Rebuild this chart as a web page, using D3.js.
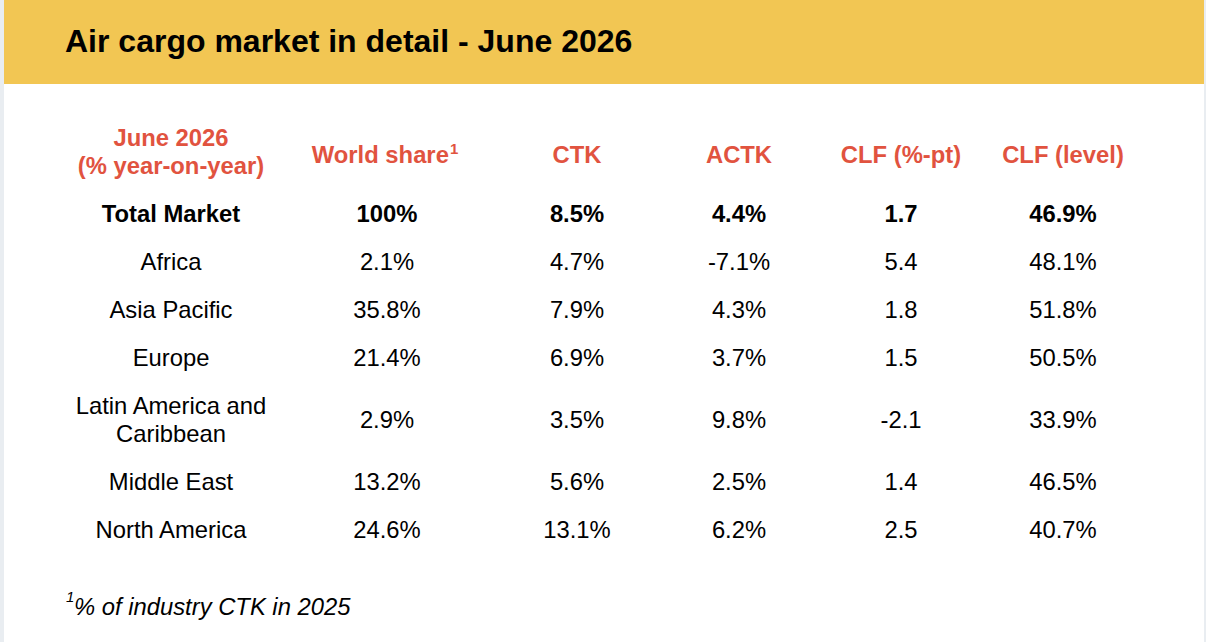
<!DOCTYPE html>
<html>
<head>
<meta charset="utf-8">
<script src="https://cdn.jsdelivr.net/npm/d3@7"></script>
<style>
  html, body { margin: 0; padding: 0; background: #E9EDF1; }
  svg { display: block; }
  text { font-family: "Liberation Sans", Arial, Helvetica, sans-serif; }
</style>
</head>
<body>
<svg id="chart" width="1206" height="642"></svg>
<script>
const title = "Air cargo market in detail - June 2026";
const headerLabel = ["June 2026", "(% year-on-year)"];
const columnHeaders = ["World share", "CTK", "ACTK", "CLF (%-pt)", "CLF (level)"];
const regions = [["Total Market"], ["Africa"], ["Asia Pacific"], ["Europe"], ["Latin America and", "Caribbean"], ["Middle East"], ["North America"]];
const worldShare = ["100%", "2.1%", "35.8%", "21.4%", "2.9%", "13.2%", "24.6%"];
const ctk = ["8.5%", "4.7%", "7.9%", "6.9%", "3.5%", "5.6%", "13.1%"];
const actk = ["4.4%", "-7.1%", "4.3%", "3.7%", "9.8%", "2.5%", "6.2%"];
const clfPt = ["1.7", "5.4", "1.8", "1.5", "-2.1", "1.4", "2.5"];
const clfLevel = ["46.9%", "48.1%", "51.8%", "50.5%", "33.9%", "46.5%", "40.7%"];
const footnote = "% of industry CTK in 2025";

const W = 1206, H = 642;
const svg = d3.select("#chart");
const RED = "#E1533F";

// card + header band
svg.append("rect").attr("x", 4).attr("y", 0).attr("width", 1200).attr("height", H).attr("fill", "#ffffff");
svg.append("rect").attr("x", 4).attr("y", 0).attr("width", 1200).attr("height", 84).attr("fill", "#F2C653");
svg.append("text").attr("x", 65).attr("y", 51.5)
  .attr("font-size", 32).attr("font-weight", "bold").attr("fill", "#000").text(title);

const colKeys = ["label", "share", "ctk", "actk", "clfPt", "clfLevel"];
const x = d3.scaleOrdinal().domain(colKeys).range([171, 387, 577, 739, 901, 1063]);

const FS = 23.8, LH = 28;

// Header row
const hdr = svg.append("g").attr("fill", RED).attr("font-weight", "bold").attr("font-size", FS).attr("text-anchor", "middle");
headerLabel.forEach((t, i) => hdr.append("text").attr("x", x("label")).attr("y", 146 + i * LH).text(t));
columnHeaders.forEach((t, i) => {
  const tx = hdr.append("text").attr("x", x(colKeys[i + 1]) + (i === 0 ? -2 : 0)).attr("y", 163).text(t);
  if (i === 0) tx.append("tspan").attr("font-size", 15).attr("dx", 1).attr("dy", -9).text("1");
});

// Data rows: y positions from cumulative row heights
const rowData = regions.map((r, i) => ({
  lines: r, values: [worldShare[i], ctk[i], actk[i], clfPt[i], clfLevel[i]], bold: i === 0
}));
let cy = 213;
rowData.forEach((d, i) => {
  const extra = (d.lines.length - 1) * LH;
  if (i > 0) cy += 48 + extra / 2;
  d.cy = cy;
  cy += extra / 2;
});

const rows = svg.append("g").attr("font-size", FS).attr("text-anchor", "middle").attr("fill", "#000")
  .selectAll("g.row").data(rowData).join("g")
  .attr("font-weight", d => d.bold ? "bold" : "normal");

rows.each(function(d) {
  const g = d3.select(this);
  const n = d.lines.length;
  d.lines.forEach((t, j) => {
    g.append("text").attr("x", x("label"))
      .attr("y", d.cy + 8.5 + (j - (n - 1) / 2) * LH).text(t);
  });
  d.values.forEach((v, k) => {
    g.append("text").attr("x", x(colKeys[k + 1])).attr("y", d.cy + 8.5).text(v);
  });
});

// Footnote
svg.append("text").attr("x", 66).attr("y", 602).attr("font-size", 15).attr("font-style", "italic").attr("fill", "#000").text("1");
svg.append("text").attr("x", 74).attr("y", 615).attr("font-size", FS).attr("font-style", "italic").attr("fill", "#000").text(footnote);
</script>
</body>
</html>
